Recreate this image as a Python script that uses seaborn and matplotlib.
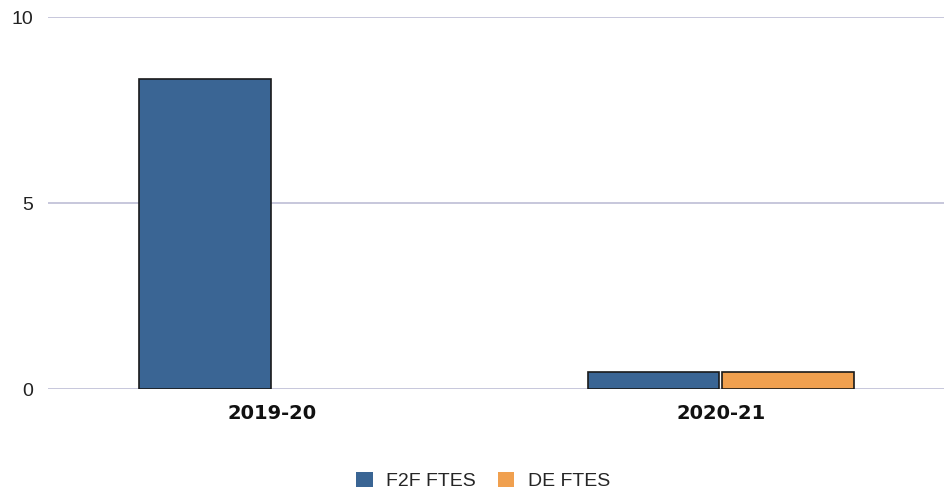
import numpy as np
import pandas as pd
import matplotlib
matplotlib.use("Agg")
import matplotlib.pyplot as plt
import seaborn as sns

years = ["2019-20", "2020-21"]
series = ["F2F FTES", "DE FTES"]
f2f_ftes = [8.35, 0.45]
de_ftes = [np.nan, 0.45]
colors = ["#3A6594", "#F0A04F"]

df = pd.DataFrame({
    "year": years * 2,
    "series": [series[0]] * 2 + [series[1]] * 2,
    "value": f2f_ftes + de_ftes,
})

sns.set_style("white")
plt.rcParams["font.family"] = ["Liberation Sans", "DejaVu Sans"]

fig = plt.figure(figsize=(9.45, 4.9), dpi=100)
ax = fig.add_axes([0.051, 0.206, 0.949, 0.759])

sns.barplot(data=df, x="year", y="value", hue="series", order=years,
            hue_order=series, palette=colors, width=0.6, gap=0.02,
            edgecolor="#1a1a1a", linewidth=1.2, saturation=1, ax=ax,
            legend=True)

ax.set_ylim(0, 10)
ax.set_xlim(-0.5, 1.5)
ax.set_yticks([0, 5, 10])
ax.yaxis.grid(True, color="#BEBED6", linewidth=1.2)
ax.set_axisbelow(True)
for s in ax.spines.values():
    s.set_visible(False)
ax.set_xlabel("")
ax.set_ylabel("")
ax.tick_params(axis="y", length=0, pad=11, labelsize=14, labelcolor="#222222")
ax.tick_params(axis="x", length=0, pad=11, labelsize=14)
for t in ax.get_xticklabels():
    t.set_fontweight("bold")
    t.set_fontfamily("DejaVu Sans")
    t.set_color("#111111")

ax.legend(loc="upper center", bbox_to_anchor=(0.485, -0.175), ncol=2,
          frameon=False, fontsize=14, handlelength=0.85, handleheight=0.85,
          columnspacing=1.1, handletextpad=0.7)
leg = ax.get_legend()
for h in leg.legend_handles:
    h.set_edgecolor("none")

fig.savefig("out.png", dpi=100)
